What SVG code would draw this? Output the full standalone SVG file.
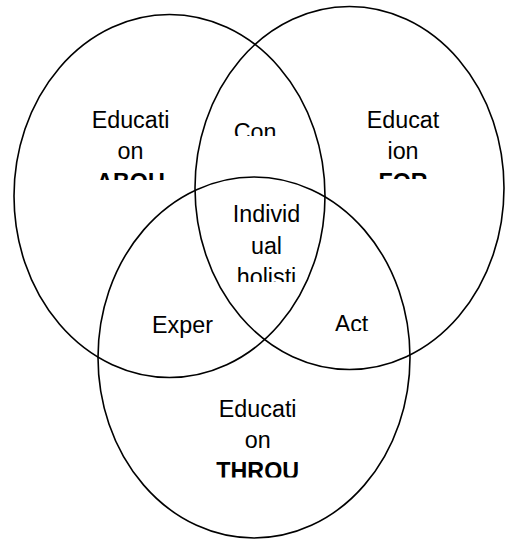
<svg xmlns="http://www.w3.org/2000/svg" width="505" height="539" viewBox="0 0 505 539">
<style>
.ring{fill:none;stroke:#000;stroke-width:1.6}
.lbl{font-family:"Liberation Sans",Arial,sans-serif;font-size:23.3px;fill:#000;text-anchor:middle}
.b{font-weight:bold}
</style>
<defs>
<clipPath id="cAbout"><rect x="60" y="95" width="140" height="85"/></clipPath>
<clipPath id="cFor"><rect x="335" y="95" width="140" height="84"/></clipPath>
<clipPath id="cCon"><rect x="215" y="110" width="80" height="26"/></clipPath>
<clipPath id="cInd"><rect x="220" y="190" width="95" height="92"/></clipPath>
<clipPath id="cAct"><rect x="320" y="305" width="65" height="26"/></clipPath>
<clipPath id="cThr"><rect x="190" y="390" width="135" height="87.5"/></clipPath>
</defs>
<g id="connectors"></g>
<g id="about">
<ellipse class="ring" cx="169.5" cy="196" rx="155.5" ry="181.5"/>
<text class="lbl" clip-path="url(#cAbout)"><tspan x="130.5" y="128">Educati</tspan><tspan x="130.5" y="159">on</tspan><tspan class="b" x="130.5" y="190">ABOU</tspan></text>
</g>
<g id="for">
<ellipse class="ring" cx="349.5" cy="188" rx="154.5" ry="181.5"/>
<text class="lbl" clip-path="url(#cFor)"><tspan x="403" y="128">Educat</tspan><tspan x="403" y="159">ion</tspan><tspan class="b" x="403" y="190">FOR</tspan></text>
</g>
<g id="through">
<ellipse class="ring" cx="254" cy="357.5" rx="156" ry="180.5"/>
<text class="lbl" clip-path="url(#cThr)"><tspan x="257.7" y="417">Educati</tspan><tspan x="257.7" y="448">on</tspan><tspan class="b" x="257.7" y="479">THROU</tspan></text>
</g>
<g id="con">
<text class="lbl" x="255" y="139.5" clip-path="url(#cCon)">Con</text>
</g>
<g id="individual">
<text class="lbl" clip-path="url(#cInd)"><tspan x="266.5" y="221.5">Individ</tspan><tspan x="266.5" y="253.5">ual</tspan><tspan x="266.5" y="285">holisti</tspan></text>
</g>
<g id="exper">
<text class="lbl" x="182.5" y="332.5">Exper</text>
</g>
<g id="act">
<text class="lbl" x="351.5" y="332" clip-path="url(#cAct)">Act</text>
</g>
</svg>
